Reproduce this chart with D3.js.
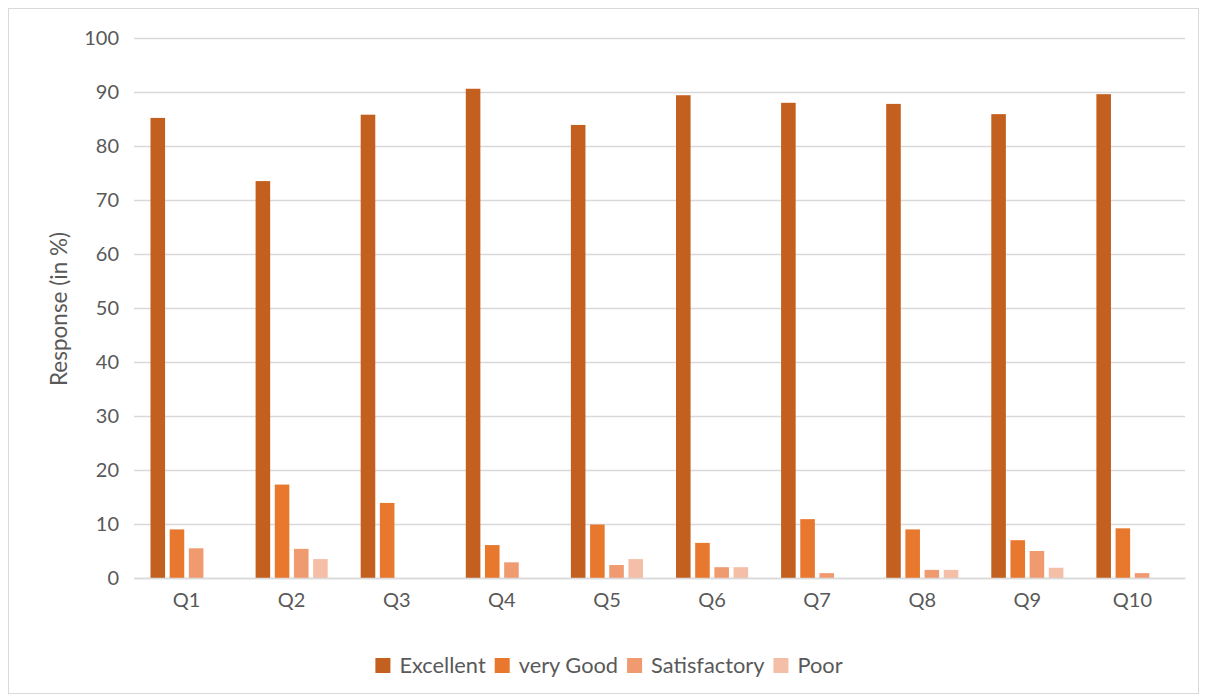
<!DOCTYPE html>
<html>
<head>
<meta charset="utf-8">
<script src="https://cdn.jsdelivr.net/npm/d3@7"></script>
<style>
  html, body { margin: 0; padding: 0; background: #fff; }
  svg { display: block; }
  text { font-family: Lato, "Open Sans", sans-serif; fill: #595959; }
</style>
</head>
<body>
<svg id="chart" width="1209" height="699"></svg>
<script>
const categories = ["Q1","Q2","Q3","Q4","Q5","Q6","Q7","Q8","Q9","Q10"];
const seriesNames = ["Excellent","very Good","Satisfactory","Poor"];
const excellent    = [85.2, 73.5, 85.8, 90.6, 83.9, 89.4, 88.0, 87.8, 85.9, 89.6];
const veryGood     = [9.0, 17.3, 13.9, 6.1, 9.9, 6.5, 10.9, 9.0, 7.0, 9.2];
const satisfactory = [5.5, 5.4, 0, 2.9, 2.4, 2.0, 0.9, 1.5, 5.0, 0.9];
const poor         = [0, 3.5, 0, 0, 3.5, 2.0, 0, 1.5, 1.9, 0];
const yTicks = [0,10,20,30,40,50,60,70,80,90,100];
const colors = ["#C4601F", "#E8782E", "#F09A70", "#F5BEA6"];
const yTitle = "Response (in %)";

(function draw() {
const seriesValues = [excellent, veryGood, satisfactory, poor];
const svg = d3.select("#chart");

svg.append("rect").attr("x", 8.5).attr("y", 8.5).attr("width", 1190).attr("height", 685)
  .attr("fill", "#fff").attr("stroke", "#d9d9d9").attr("stroke-width", 1);

const mLeft = 134, mRight = 1185, mTop = 38, mBottom = 578;
const x0 = d3.scaleBand().domain(categories).range([mLeft, mRight]).paddingInner(0).paddingOuter(0);
const x1 = d3.scaleBand().domain(seriesNames).range([0, x0.bandwidth()]).paddingInner(0.24).paddingOuter(0.86);
const y = d3.scaleLinear().domain([0, 100]).range([mBottom, mTop]);

const yAxis = d3.axisLeft(y).tickValues(yTicks).tickSize(-(mRight - mLeft)).tickPadding(15);
const gy = svg.append("g").attr("transform", `translate(${mLeft},0)`).call(yAxis);
gy.select(".domain").remove();
gy.selectAll(".tick line").attr("stroke", "#d9d9d9").attr("stroke-width", 1.3);
gy.selectAll(".tick text").attr("font-size", 20).style("font-family", "Lato, sans-serif").attr("fill", "#595959");

const groups = svg.append("g").selectAll("g").data(categories).join("g")
  .attr("transform", d => `translate(${x0(d)},0)`);
groups.selectAll("rect")
  .data((c, i) => seriesNames.map((s, j) => ({ s, v: seriesValues[j][i], j })))
  .join("rect")
  .attr("x", d => x1(d.s))
  .attr("width", x1.bandwidth())
  .attr("y", d => y(d.v))
  .attr("height", d => y(0) - y(d.v))
  .attr("fill", d => colors[d.j]);

const xAxis = d3.axisBottom(x0).tickSize(0).tickPadding(15);
const gx = svg.append("g").attr("transform", `translate(0,${mBottom})`).call(xAxis);
gx.select(".domain").attr("stroke", "#d9d9d9").attr("stroke-width", 1.3);
gx.selectAll(".tick text").attr("font-size", 20).style("font-family", "Lato, sans-serif").attr("fill", "#595959");

svg.append("text").attr("transform", "translate(67,309) rotate(-90)")
  .attr("text-anchor", "middle").attr("font-size", 22.5).text(yTitle);

const legend = svg.append("g");
const items = legend.selectAll("g").data(seriesNames).join("g");
items.append("rect").attr("width", 15).attr("height", 15).attr("y", 658)
  .attr("fill", (d, i) => colors[i]);
items.append("text").attr("x", 24).attr("y", 673).attr("font-size", 21.8).text(d => d);
const widths = [];
items.each(function() {
  const w = d3.select(this).select("text").node().getComputedTextLength();
  widths.push(24 + w);
});
const gap = 9;
const total = d3.sum(widths) + gap * (widths.length - 1);
let cx = 609 - total / 2;
items.attr("transform", (d, i) => {
  const t = `translate(${cx},0)`;
  cx += widths[i] + gap;
  return t;
});
})();
</script>
</body>
</html>
